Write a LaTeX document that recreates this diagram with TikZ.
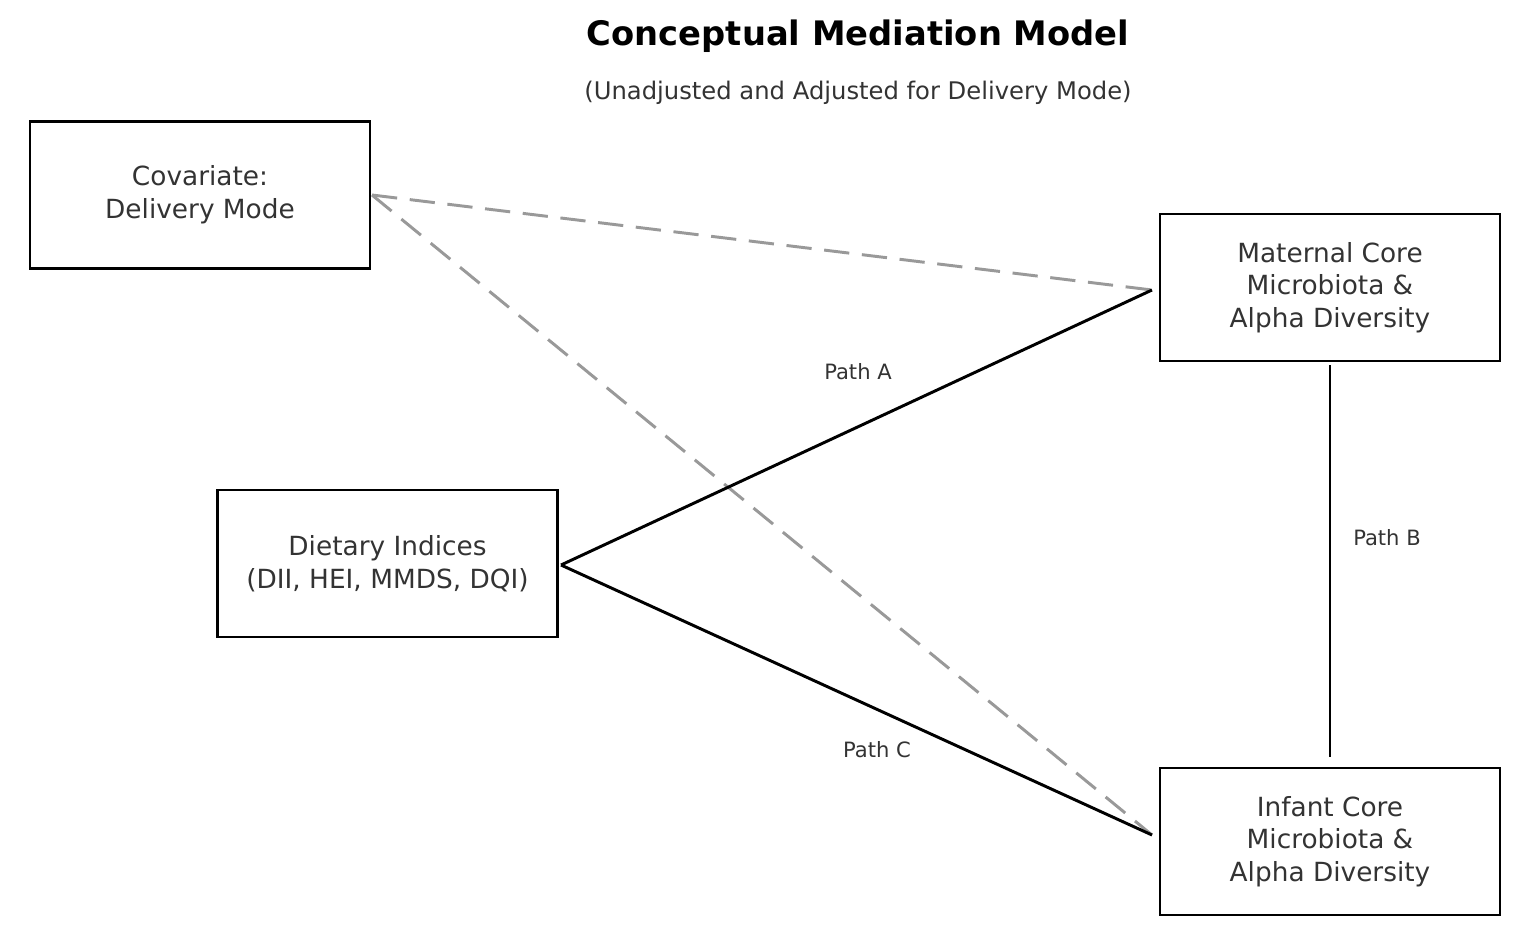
\documentclass[tikz,border=0pt]{standalone}
\usepackage{fontspec}
\setmainfont{DejaVu Sans}
\begin{document}
\begin{tikzpicture}[x=1cm/60, y=-1cm/60,
  box/.style={draw, line width=1.3pt, minimum width=340/60*1cm, minimum height=147/60*1cm,
    align=center, font=\fontsize{12.5}{15.5}\selectfont, text=black!80},
  path/.style={line width=1.4pt},
  cov/.style={line width=1.4pt, gray!80, dash pattern=on 12pt off 6pt},
  lbl/.style={font=\fontsize{10}{12}\selectfont, text=black!80}]
\useasboundingbox (0,0) rectangle (1524,948);
\node[font=\fontsize{16}{19}\selectfont\bfseries] (title) at (858,36) {Conceptual Mediation Model};
\node[font=\fontsize{11.5}{14}\selectfont, text=black!80] (sub) at (858,93) {(Unadjusted and Adjusted for Delivery Mode)};
\node[box] (cov) at (200,195) {Covariate:\\Delivery Mode};
\node[box] (diet) at (387.5,563.5) {Dietary Indices\\(DII, HEI, MMDS, DQI)};
\node[box] (mat) at (1330,287.5) {Maternal Core\\Microbiota \&\\Alpha Diversity};
\node[box] (inf) at (1330,841.5) {Infant Core\\Microbiota \&\\Alpha Diversity};
\coordinate (m) at (1152,290);
\coordinate (i) at (1152,835);
\coordinate (d) at (561,565);
\coordinate (c) at (372,195);
% confounder paths
\draw[cov] (c) -- (m);
\draw[cov] (c) -- (i);
% mediation paths
\draw[path] (d) -- (m);
\draw[path] (d) -- (i);
\draw[path] (1330,365) -- (1330,757);
\node[lbl] (pa) at (858,372) {Path A};
\node[lbl] (pb) at (1387,538) {Path B};
\node[lbl] (pc) at (877,750) {Path C};
\end{tikzpicture}
\end{document}
